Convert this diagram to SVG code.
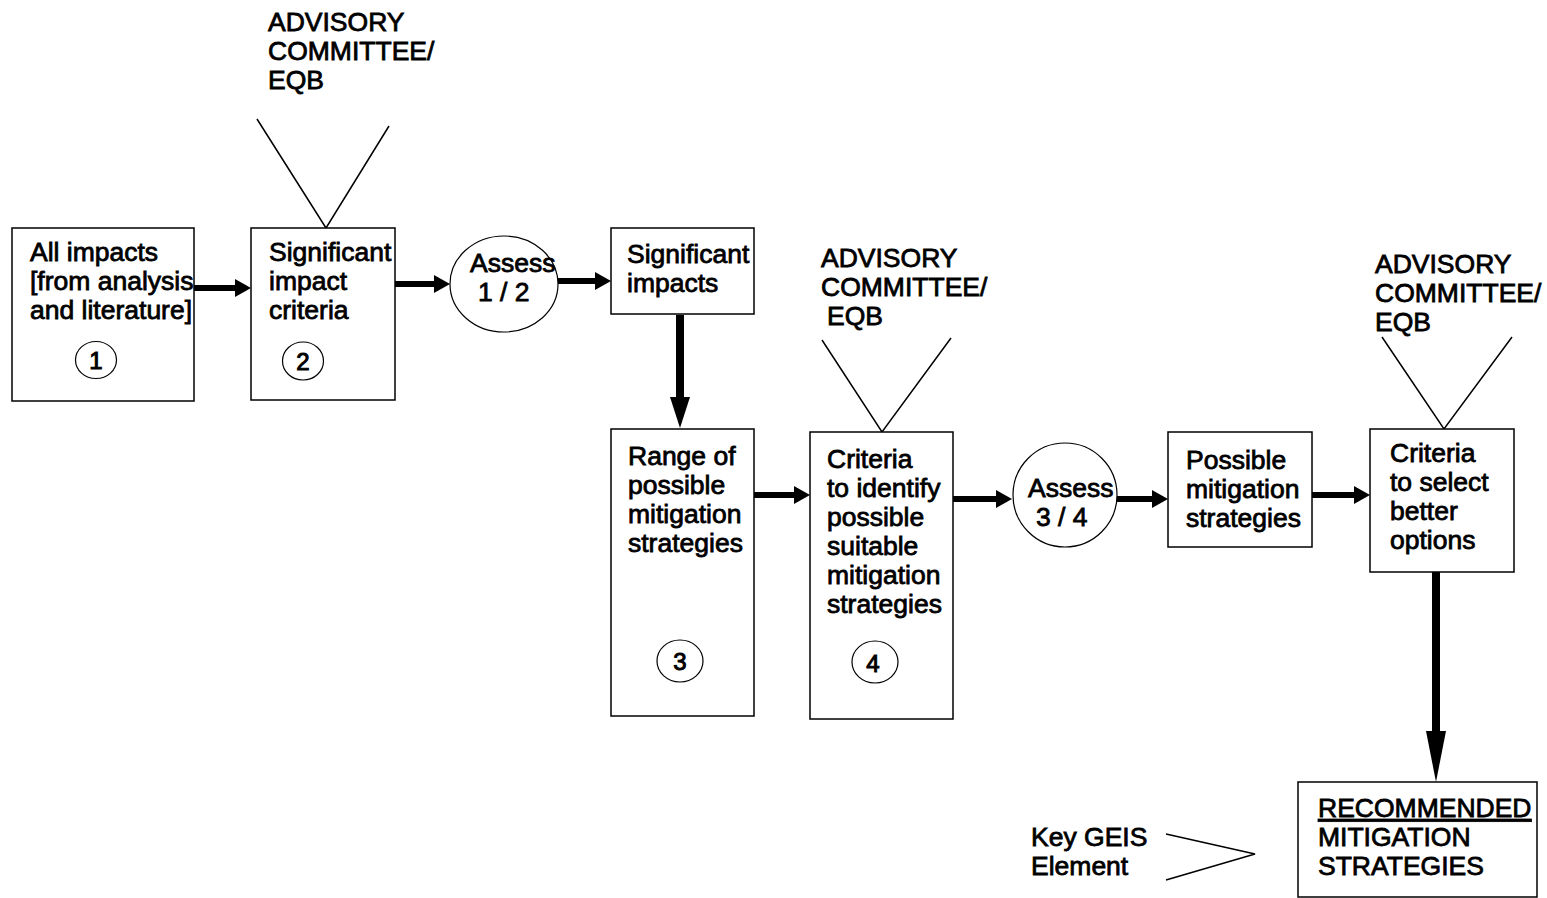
<svg xmlns="http://www.w3.org/2000/svg" width="1547" height="898" viewBox="0 0 1547 898">
<defs>
<style>
.box{fill:#fff;stroke:#000;stroke-width:1.5}
.ov{fill:#fff;stroke:#000;stroke-width:1.2}
.t{font-family:"Liberation Sans",Arial,sans-serif;font-size:26.5px;fill:#000;stroke:#000;stroke-width:0.8}
.n{font-family:"Liberation Sans",Arial,sans-serif;font-size:24px;fill:#000;stroke:#000;stroke-width:1;text-anchor:middle}
.v{fill:none;stroke:#000;stroke-width:1.5}
.a{stroke:#000;stroke-width:6;fill:none}
.ad{stroke:#000;stroke-width:8;fill:none}
.h{fill:#000;stroke:none}
</style>
</defs>
<rect width="1547" height="898" fill="#fff"/>

<g id="connectors">
<line class="a" x1="194" y1="288" x2="237" y2="288"/><polygon class="h" points="235,279 251,288 235,297"/>
<line class="a" x1="395" y1="284" x2="436" y2="284"/><polygon class="h" points="434,275 450,284 434,293"/>
<line class="a" x1="558" y1="281" x2="597" y2="281"/><polygon class="h" points="595,272 611,281 595,290"/>
<line class="ad" x1="680" y1="315" x2="680" y2="400"/><polygon class="h" points="670,397 690,397 680,428"/>
<line class="a" x1="754" y1="495" x2="796" y2="495"/><polygon class="h" points="794,486 810,495 794,504"/>
<line class="a" x1="953" y1="499" x2="998" y2="499"/><polygon class="h" points="996,490 1012,499 996,508"/>
<line class="a" x1="1117" y1="499" x2="1154" y2="499"/><polygon class="h" points="1152,490 1168,499 1152,508"/>
<line class="a" x1="1312" y1="495" x2="1356" y2="495"/><polygon class="h" points="1354,486 1370,495 1354,504"/>
<line class="ad" x1="1436" y1="572" x2="1436" y2="734"/><polygon class="h" points="1426,731 1446,731 1436,782"/>
</g>

<g id="advisory1">
<text class="t" x="268" y="31">ADVISORY</text>
<text class="t" x="268" y="60">COMMITTEE/</text>
<text class="t" x="268" y="89">EQB</text>
<polyline class="v" points="257,119 326,228 389,126"/>
</g>

<g id="advisory2">
<text class="t" x="821" y="267">ADVISORY</text>
<text class="t" x="821" y="296">COMMITTEE/</text>
<text class="t" x="827" y="325">EQB</text>
<polyline class="v" points="822,340 882,432 951,338"/>
</g>

<g id="advisory3">
<text class="t" x="1375" y="273">ADVISORY</text>
<text class="t" x="1375" y="302">COMMITTEE/</text>
<text class="t" x="1375" y="331">EQB</text>
<polyline class="v" points="1382,337 1444,429 1512,337"/>
</g>

<g id="node1">
<rect class="box" x="12" y="228" width="182" height="173"/>
<text class="t" x="30" y="261">All impacts</text>
<text class="t" x="30" y="290">[from analysis</text>
<text class="t" x="30" y="319">and literature]</text>
<ellipse class="ov" cx="96" cy="360" rx="20.5" ry="18.5"/>
<text class="n" x="96" y="369">1</text>
</g>

<g id="node2">
<rect class="box" x="251" y="228" width="144" height="172"/>
<text class="t" x="269" y="261">Significant</text>
<text class="t" x="269" y="290">impact</text>
<text class="t" x="269" y="319">criteria</text>
<ellipse class="ov" cx="303" cy="361" rx="20.5" ry="19"/>
<text class="n" x="303" y="370">2</text>
</g>

<g id="assess12">
<ellipse class="ov" cx="504" cy="284" rx="54" ry="48"/>
<text class="t" x="470" y="272">Assess</text>
<text class="t" x="478" y="301">1 / 2</text>
</g>

<g id="sigimpacts">
<rect class="box" x="611" y="228" width="143" height="86"/>
<text class="t" x="627" y="263">Significant</text>
<text class="t" x="627" y="292">impacts</text>
</g>

<g id="node3">
<rect class="box" x="611" y="429" width="143" height="287"/>
<text class="t" x="628" y="465">Range of</text>
<text class="t" x="628" y="494">possible</text>
<text class="t" x="628" y="523">mitigation</text>
<text class="t" x="628" y="552">strategies</text>
<ellipse class="ov" cx="680" cy="661" rx="23" ry="21"/>
<text class="n" x="680" y="670">3</text>
</g>

<g id="node4">
<rect class="box" x="810" y="432" width="143" height="287"/>
<text class="t" x="827" y="468">Criteria</text>
<text class="t" x="827" y="497">to identify</text>
<text class="t" x="827" y="526">possible</text>
<text class="t" x="827" y="555">suitable</text>
<text class="t" x="827" y="584">mitigation</text>
<text class="t" x="827" y="613">strategies</text>
<ellipse class="ov" cx="875" cy="662" rx="23" ry="21"/>
<text class="n" x="873" y="672">4</text>
</g>

<g id="assess34">
<ellipse class="ov" cx="1065" cy="495" rx="52" ry="52"/>
<text class="t" x="1028" y="497">Assess</text>
<text class="t" x="1036" y="526">3 / 4</text>
</g>

<g id="possible">
<rect class="box" x="1168" y="432" width="144" height="115"/>
<text class="t" x="1186" y="469">Possible</text>
<text class="t" x="1186" y="498">mitigation</text>
<text class="t" x="1186" y="527">strategies</text>
</g>

<g id="select">
<rect class="box" x="1370" y="429" width="144" height="143"/>
<text class="t" x="1390" y="462">Criteria</text>
<text class="t" x="1390" y="491">to select</text>
<text class="t" x="1390" y="520">better</text>
<text class="t" x="1390" y="549">options</text>
</g>

<g id="recommended">
<rect class="box" x="1298" y="782" width="239" height="115"/>
<text class="t" x="1318" y="817" text-decoration="underline">RECOMMENDED</text>
<text class="t" x="1318" y="846">MITIGATION</text>
<text class="t" x="1318" y="875">STRATEGIES</text>
</g>

<g id="key">
<text class="t" x="1031" y="846">Key GEIS</text>
<text class="t" x="1031" y="875">Element</text>
<polyline class="v" points="1166,834 1255,854 1166,880"/>
</g>
</svg>
